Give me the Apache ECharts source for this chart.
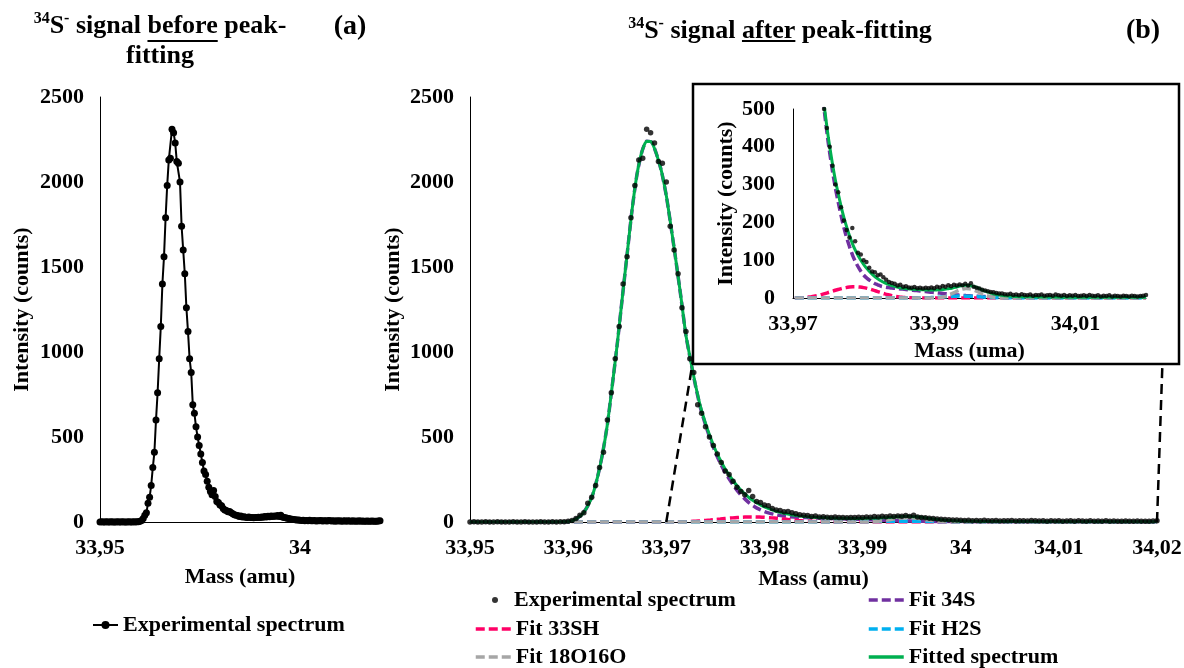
<!DOCTYPE html>
<html><head><meta charset="utf-8">
<script src="https://cdn.jsdelivr.net/npm/echarts@6/dist/echarts.min.js"></script>
<style>html,body{margin:0;padding:0;background:#fff}#c{width:1184px;height:668px}</style>
</head><body><div id="c"></div>
<script>
// ---------- data ----------
const expMass = [33.9500,33.9504,33.9508,33.9512,33.9516,33.9520,33.9524,33.9528,33.9532,33.9536,
33.9540,33.9544,33.9548,33.9552,33.9556,33.9560,33.9564,33.9568,33.9572,33.9576,
33.9580,33.9584,33.9588,33.9592,33.9596,33.9600,33.9604,33.9608,33.9612,33.9616,
33.9620,33.9624,33.9628,33.9632,33.9636,33.9640,33.9644,33.9648,33.9652,33.9656,
33.9660,33.9664,33.9668,33.9672,33.9676,33.9680,33.9684,33.9688,33.9692,33.9696,
33.9700,33.9704,33.9708,33.9712,33.9716,33.9720,33.9724,33.9728,33.9732,33.9736,
33.9740,33.9744,33.9748,33.9752,33.9756,33.9760,33.9764,33.9768,33.9772,33.9776,
33.9780,33.9784,33.9788,33.9792,33.9796,33.9800,33.9804,33.9808,33.9812,33.9816,
33.9820,33.9824,33.9828,33.9832,33.9836,33.9840,33.9844,33.9848,33.9852,33.9856,
33.9860,33.9864,33.9868,33.9872,33.9876,33.9880,33.9884,33.9888,33.9892,33.9896,
33.9900,33.9904,33.9908,33.9912,33.9916,33.9920,33.9924,33.9928,33.9932,33.9936,
33.9940,33.9944,33.9948,33.9952,33.9956,33.9960,33.9964,33.9968,33.9972,33.9976,
33.9980,33.9984,33.9988,33.9992,33.9996,34.0000,34.0004,34.0008,34.0012,34.0016,
34.0020,34.0024,34.0028,34.0032,34.0036,34.0040,34.0044,34.0048,34.0052,34.0056,
34.0060,34.0064,34.0068,34.0072,34.0076,34.0080,34.0084,34.0088,34.0092,34.0096,
34.0100,34.0104,34.0108,34.0112,34.0116,34.0120,34.0124,34.0128,34.0132,34.0136,
34.0140,34.0144,34.0148,34.0152,34.0156,34.0160,34.0164,34.0168,34.0172,34.0176,
34.0180,34.0184,34.0188,34.0192,34.0196,34.0200];
const expCounts = [0,1,0,0,1,0,0,1,0,0,
0,1,0,0,1,0,0,0,1,0,
0,1,0,1,2,4,9,20,40,55,
110,145,215,320,410,600,760,960,1150,1400,
1560,1790,1980,2130,2140,2310,2290,2230,2120,2110,
2000,1740,1600,1460,1260,1120,960,880,690,640,
560,500,450,400,350,300,280,240,205,180,
160,185,150,120,115,100,95,80,70,68,
60,62,55,48,42,40,38,33,35,30,
31,28,27,29,26,27,25,27,26,28,
26,30,28,32,30,34,31,35,33,36,
34,38,33,39,30,27,25,22,20,18,
16,15,13,12,12,10,9,11,8,9,
7,10,8,7,9,6,8,7,9,6,
7,8,6,9,7,6,8,5,7,6,
8,5,6,7,5,8,6,5,7,4,
6,5,7,4,6,5,4,6,5,4,
6,5,4,5,6,8];

const fitMass = [33.950,33.955,33.958,33.959,33.9595,
33.9600,33.9605,33.9610,33.9615,33.9620,33.9625,33.9630,33.9635,33.9640,33.9645,
33.9650,33.9655,33.9660,33.9665,33.9670,33.9675,33.9680,33.9685,33.9690,33.9695,
33.9700,33.9705,33.9710,33.9715,33.9720,33.9725,33.9730,33.9735,33.9740,33.9745,
33.9750,33.9755,33.9760,33.9765,33.9770,33.9775,33.9780,33.9785,33.9790,33.9795,
33.9800,33.9805,33.9810,33.9815,33.9820,33.9825,33.9830,33.9835,33.9840,33.9845,
33.9850,33.9855,33.9860,33.9865,33.9870,33.9875,33.9880,33.9885,33.9890,33.9895,
33.9900,33.9905,33.9910,33.9915,33.9920,33.9925,33.9930,33.9935,33.9940,33.9945,
33.9950,33.9955,33.9960,33.9965,33.9970,33.9975,33.9980,33.9985,33.9990,33.9995,
34.0000,34.001,34.002,34.004,34.006,34.008,34.010,34.015,34.020];
const fit34S = [0,0,0,0.5,1,
3,10,25,50,95,160,265,400,575,805,
1045,1310,1570,1830,2040,2175,2240,2235,2165,2065,
1920,1730,1529,1319,1098,942,795,668,571,485,
410,347,291,245,202,166,136,110,90,74,
61,52,45,39,35,31,29,27.5,26.5,25.5,
24.5,23.5,22.5,21.5,20.5,19.5,18.5,17.5,16.5,15.5,
14.5,13.5,12.5,11.5,10.5,9.5,8.5,7.7,7,6.3,
5.7,5.1,4.6,4.2,3.8,3.5,3.2,3,2.8,2.6,
2.4,2.1,2,1.8,1.6,1.5,1.4,1.2,1];
const fit33SH = [0,0,0,0,0,
0,0,0,0,0,0,0,0,0,0,
0,0,0,0,0,0,0,0,0,0,
0,0.3,0.6,1,1.8,3,4.5,6.5,9,11.5,
14.5,17.5,20.5,23,25.5,27.5,28.8,29.5,29.5,28.8,
27.5,25.5,23,20,17,14,11,8.5,6.3,4.5,
3,2,1.3,0.8,0.4,0.2,0,0,0,0,
0,0,0,0,0,0,0,0,0,0,
0,0,0,0,0,0,0,0,0,0,
0,0,0,0,0,0,0,0,0];
const fitH2S = [0,0,0,0,0,
0,0,0,0,0,0,0,0,0,0,
0,0,0,0,0,0,0,0,0,0,
0,0,0,0,0,0,0,0,0,0,
0,0,0,0,0,0,0,0,0,0,
0,0,0,0,0,0,0,0,0,0,
0,0,0,0,0,0,0,0.3,0.6,1,
1.5,2,2.6,3.2,3.8,4.3,4.7,5,5,4.9,
4.6,4.2,3.7,3.1,2.5,2,1.5,1.1,0.8,0.5,
0.3,0.1,0,0,0,0,0,0,0];
const fit18O16O = [0,0,0,0,0,
0,0,0,0,0,0,0,0,0,0,
0,0,0,0,0,0,0,0,0,0,
0,0,0,0,0,0,0,0,0,0,
0,0,0,0,0,0,0,0,0,0,
0,0,0,0,0,0,0,0,0,0,
0,0,0,0,0,0,0,0,0,0,
0,0.5,1.5,3.5,7,11.5,16,20.5,23.5,25,
24.5,22,18,13.5,9.5,6,3.5,1.8,0.8,0.3,
0,0,0,0,0,0,0,0,0];
const fitTotal = [0,0,0,0.5,1,
3,10,25,50,95,160,265,400,575,805,
1045,1310,1570,1830,2040,2175,2240,2235,2165,2065,
1920,1730,1530,1320,1100,945,800,675,580,497,
425,365,312,268,228,194,165,140,120,103,
89,77,67,58,51,45,40,36,33,30,
28,26,25,24,23,22.5,22,21.5,21,21,
21,21.5,22,23,24.5,26,28,31,33,33.5,
33,31,28,24,19.5,16,13,10.5,8.5,7,
6,4.5,3.5,3,2.5,2.2,2,2,2];
// zoom-connector lines (from the inset's mass range on the main axis up to the inset box)
const zoomLeft = [[33.97, 0], [33.9729, 1012]];
const zoomRight = [[34.02, 0], [34.0206, 1012]];

// ---------- styling ----------
const FF = 'Liberation Serif';
const C = {s34: '#7030A0', sh33: '#FF0066', h2s: '#00B0F0', o2: '#A6A6A6', tot: '#00B050'};
const pair = (xs, ys) => xs.map((x, i) => [x, ys[i]]);
const fmtMass = v => String(Math.round(v * 100) / 100).replace('.', ',');
const fmtInt = v => String(Math.round(v));
const lblStyle = {fontFamily: FF, fontWeight: 'bold', fontSize: 22, color: '#000'};
// main panel (b) scale: 687 px for 0.07 amu; the connector grid reuses it, slightly wider
const PX_PER_AMU = 687 / 0.07;
const connMax = 34.0225;

function xAx(gi, min, max, interval, name, gap, z, showMax) {
  return {type: 'value', gridIndex: gi, min, max, interval, z,
    name, nameLocation: 'middle', nameGap: gap, nameTextStyle: lblStyle,
    axisLine: {show: true, onZero: false, lineStyle: {color: '#000', width: 1}},
    axisTick: {show: false}, splitLine: {show: false},
    axisLabel: Object.assign({margin: 15, formatter: fmtMass, showMaxLabel: showMax, showMinLabel: true}, lblStyle)};
}
function yAx(gi, max, interval, gap, z, margin) {
  return {type: 'value', gridIndex: gi, min: 0, max, interval, z,
    name: 'Intensity (counts)', nameLocation: 'middle', nameRotate: 90, nameGap: gap, nameTextStyle: lblStyle,
    nameMoveOverlap: false,
    axisLine: {show: true, lineStyle: {color: '#000', width: 1}},
    axisTick: {show: false}, splitLine: {show: false},
    axisLabel: Object.assign({margin, formatter: fmtInt}, lblStyle)};
}
function fitSeries(name, data, color, dashed, xi, z) {
  return {name, type: 'line', xAxisIndex: xi, yAxisIndex: xi, data: pair(fitMass, data),
    symbol: 'none', showSymbol: false, smooth: 0.2, z, clip: true, silent: true,
    lineStyle: {color, width: dashed ? 3.5 : 3, type: dashed ? [9, 4] : 'solid'},
    itemStyle: {color}};
}
const legTxt = Object.assign({lineHeight: 22}, lblStyle);
function lineLegend(name, left, top) {
  return {data: [name], left, top, padding: 0, itemWidth: 35, itemHeight: 14,
    itemStyle: {opacity: 0}, lineStyle: {width: 3.5}, textStyle: legTxt, selectedMode: false};
}

// ---------- title geometry (measured text widths) ----------
const cv = document.createElement('canvas').getContext('2d');
const tw = (t, s) => { cv.font = 'bold ' + s + 'px "' + FF + '"'; return cv.measureText(t).width; };
const TS = 26, SS = 16;
function titleLayout(cx, pre, word, post) {
  const wPre = tw('34', SS) + tw('S', TS) + tw('-', SS) + tw(pre, TS);
  const wWord = tw(word, TS);
  const total = wPre + wWord + tw(post, TS);
  const x0 = cx - total / 2;
  return {x0, u1: x0 + wPre, u2: x0 + wPre + wWord};
}
const tA = titleLayout(160, ' signal ', 'before', ' peak-');
const tB = titleLayout(780, ' signal ', 'after', ' peak-fitting');
const rich = {
  sup: {fontSize: SS, fontWeight: 'bold', fontFamily: FF, verticalAlign: 'top', lineHeight: 18, fill: '#000'},
  b: {fontSize: TS, fontWeight: 'bold', fontFamily: FF, verticalAlign: 'middle', lineHeight: 30, fill: '#000'}
};
function titleText(x, y, pre, word, post) {
  return {type: 'text', x, y, z: 20, style: {
    text: '{sup|34}{b|S}{sup|-}{b|' + pre + '}{b|' + word + '}{b|' + post + '}',
    rich, align: 'left', verticalAlign: 'middle', fill: '#000'}};
}
function plainText(x, y, text, size) {
  return {type: 'text', x, y, z: 20, style: {text, fontFamily: FF, fontWeight: 'bold', fontSize: size,
    fill: '#000', align: 'center', verticalAlign: 'middle'}};
}

const chart = echarts.init(document.getElementById('c'), null, {renderer: 'canvas'});
chart.setOption({
  animation: false,
  backgroundColor: '#fff',
  grid: [
    {left: 100, top: 97, width: 280, height: 425, outerBoundsMode: 'none', containLabel: false},
    {left: 470, top: 97, width: 687, height: 425, outerBoundsMode: 'none', containLabel: false},
    {left: 793, top: 109, width: 353, height: 189, outerBoundsMode: 'none', containLabel: false, z: 5},
    {left: 470, top: 97, width: (connMax - 33.95) * PX_PER_AMU, height: 425, outerBoundsMode: 'none', containLabel: false}
  ],
  xAxis: [
    xAx(0, 33.95, 34.02, 0.05, 'Mass (amu)', 44, 0, false),
    xAx(1, 33.95, 34.02, 0.01, 'Mass (amu)', 46, 0, true),
    xAx(2, 33.97, 34.02, 0.02, 'Mass (uma)', 42, 5, false),
    {type: 'value', gridIndex: 3, min: 33.95, max: connMax, show: false}
  ],
  yAxis: [
    yAx(0, 2500, 500, 67, 0, 16),
    yAx(1, 2500, 500, 66, 0, 16),
    yAx(2, 500, 100, 56, 5, 18),
    {type: 'value', gridIndex: 3, min: 0, max: 2500, show: false}
  ],
  legend: [
    {data: ['Experimental spectrum'], left: 92, top: 614, padding: 0, itemWidth: 25, itemHeight: 10,
     textStyle: legTxt, selectedMode: false},
    {data: [{name: 'Experimental spectrum (b)', icon: 'circle'}], left: 492, top: 589, padding: 0, itemWidth: 6, itemHeight: 6,
     formatter: () => '  Experimental spectrum', textStyle: legTxt, selectedMode: false},
    lineLegend('Fit 33SH', 474, 618),
    lineLegend('Fit 18O16O', 474, 646),
    lineLegend('Fit 34S', 867, 589),
    lineLegend('Fit H2S', 867, 618),
    lineLegend('Fitted spectrum', 867, 646)
  ],
  graphic: {elements: [
    {type: 'rect', z: 4, shape: {x: 693, y: 84, width: 486, height: 280}, style: {fill: '#fff', stroke: '#000', lineWidth: 2.5}},
    titleText(tA.x0, 26, ' signal ', 'before', ' peak-'),
    plainText(160, 56, 'fitting', TS),
    {type: 'line', z: 20, shape: {x1: tA.u1, y1: 41, x2: tA.u2, y2: 41}, style: {stroke: '#000', lineWidth: 2}},
    plainText(350, 27, '(a)', 28),
    titleText(tB.x0, 31, ' signal ', 'after', ' peak-fitting'),
    {type: 'line', z: 20, shape: {x1: tB.u1, y1: 41, x2: tB.u2, y2: 41}, style: {stroke: '#000', lineWidth: 2}},
    plainText(1143, 31, '(b)', 28)
  ]},
  series: [
    {name: 'Experimental spectrum', type: 'line', xAxisIndex: 0, yAxisIndex: 0, data: pair(expMass, expCounts),
     symbol: 'circle', symbolSize: 7, showSymbol: true, showAllSymbol: true, silent: true,
     lineStyle: {color: '#000', width: 2}, itemStyle: {color: '#000'}},
    {name: 'Experimental spectrum (b)', type: 'scatter', xAxisIndex: 1, yAxisIndex: 1, data: pair(expMass, expCounts),
     symbol: 'circle', symbolSize: 5.5, silent: true, itemStyle: {color: '#000'}},
    fitSeries('Fit 34S', fit34S, C.s34, true, 1, 2),
    fitSeries('Fit 33SH', fit33SH, C.sh33, true, 1, 2),
    fitSeries('Fit H2S', fitH2S, C.h2s, true, 1, 2),
    fitSeries('Fit 18O16O', fit18O16O, C.o2, true, 1, 2),
    fitSeries('Fitted spectrum', fitTotal, C.tot, false, 1, 2),
    {name: 'zoomL', type: 'line', xAxisIndex: 3, yAxisIndex: 3, data: zoomLeft, symbol: 'none', clip: false, silent: true, z: 2,
     lineStyle: {color: '#000', width: 2.5, type: [10, 6]}},
    {name: 'zoomR', type: 'line', xAxisIndex: 3, yAxisIndex: 3, data: zoomRight, symbol: 'none', clip: false, silent: true, z: 2,
     lineStyle: {color: '#000', width: 2.5, type: [10, 6]}},
    {name: 'Experimental spectrum (b)', type: 'scatter', xAxisIndex: 2, yAxisIndex: 2, data: pair(expMass, expCounts),
     symbol: 'circle', symbolSize: 4.5, silent: true, z: 6, clip: true, itemStyle: {color: '#000'}},
    fitSeries('Fit 34S', fit34S, C.s34, true, 2, 6),
    fitSeries('Fit 33SH', fit33SH, C.sh33, true, 2, 6),
    fitSeries('Fit H2S', fitH2S, C.h2s, true, 2, 6),
    fitSeries('Fit 18O16O', fit18O16O, C.o2, true, 2, 6),
    fitSeries('Fitted spectrum', fitTotal, C.tot, false, 2, 6)
  ]
});
</script></body></html>
